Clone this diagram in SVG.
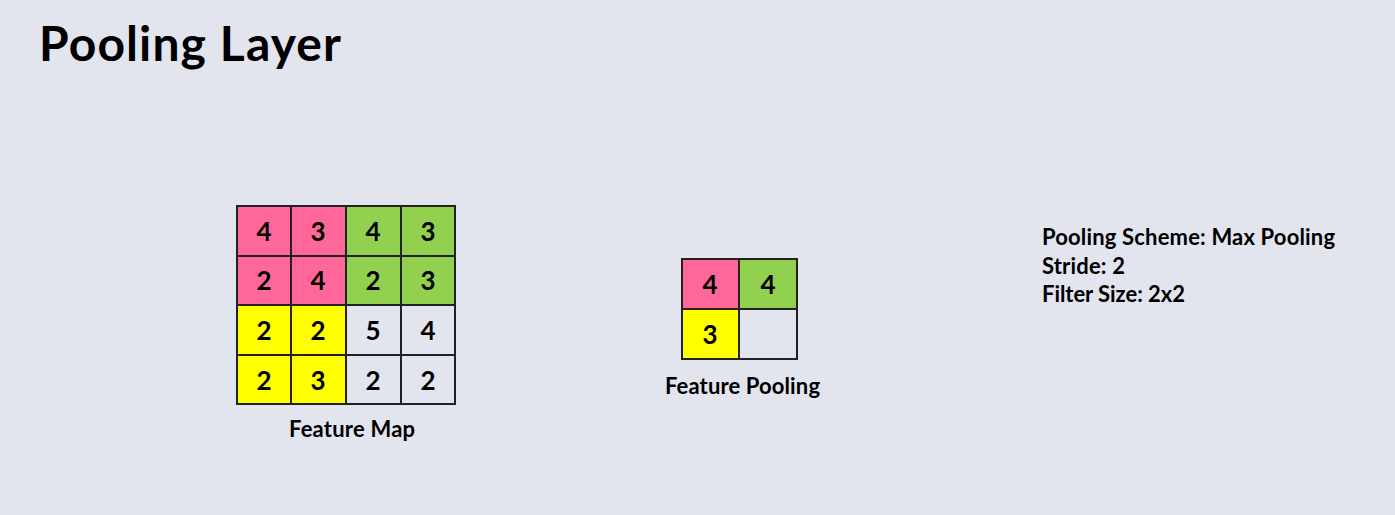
<svg xmlns="http://www.w3.org/2000/svg" width="1395" height="515" viewBox="0 0 1395 515">
<style>
text{font-family:Lato,"Open Sans","Liberation Sans",sans-serif;font-weight:bold;fill:#000}
.c{stroke:#222;stroke-width:2}
.p{fill:#FF6699}.g{fill:#92D050}.y{fill:#FFFF00}.w{fill:#E2E5EE}
.n{font-size:26px;text-anchor:middle}
.l{font-size:22px}
</style>
<rect width="1395" height="515" fill="#E2E5EE"/>
<text x="39" y="61" style="font-size:48px" textLength="302">Pooling Layer</text>
<g id="feature-map">
<rect class="c p" x="237" y="206" width="54" height="50"/>
<rect class="c p" x="291" y="206" width="55" height="50"/>
<rect class="c g" x="346" y="206" width="55" height="50"/>
<rect class="c g" x="401" y="206" width="54" height="50"/>
<rect class="c p" x="237" y="256" width="54" height="49"/>
<rect class="c p" x="291" y="256" width="55" height="49"/>
<rect class="c g" x="346" y="256" width="55" height="49"/>
<rect class="c g" x="401" y="256" width="54" height="49"/>
<rect class="c y" x="237" y="305" width="54" height="50"/>
<rect class="c y" x="291" y="305" width="55" height="50"/>
<rect class="c w" x="346" y="305" width="55" height="50"/>
<rect class="c w" x="401" y="305" width="54" height="50"/>
<rect class="c y" x="237" y="355" width="54" height="49"/>
<rect class="c y" x="291" y="355" width="55" height="49"/>
<rect class="c w" x="346" y="355" width="55" height="49"/>
<rect class="c w" x="401" y="355" width="54" height="49"/>
<text class="n" x="264" y="241">4</text><text class="n" x="318" y="241">3</text><text class="n" x="373" y="241">4</text><text class="n" x="428" y="241">3</text>
<text class="n" x="264" y="290">2</text><text class="n" x="318" y="290">4</text><text class="n" x="373" y="290">2</text><text class="n" x="428" y="290">3</text>
<text class="n" x="264" y="340">2</text><text class="n" x="318" y="340">2</text><text class="n" x="373" y="340">5</text><text class="n" x="428" y="340">4</text>
<text class="n" x="264" y="390">2</text><text class="n" x="318" y="390">3</text><text class="n" x="373" y="390">2</text><text class="n" x="428" y="390">2</text>
<text class="l" x="289" y="437" textLength="126">Feature Map</text>
</g>
<g id="feature-pooling">
<rect class="c p" x="682" y="259" width="57" height="50"/>
<rect class="c g" x="739" y="259" width="58" height="50"/>
<rect class="c y" x="682" y="309" width="57" height="50"/>
<rect class="c w" x="739" y="309" width="58" height="50"/>
<text class="n" x="710" y="294">4</text><text class="n" x="768" y="294">4</text>
<text class="n" x="710" y="344">3</text>
<text class="l" x="665" y="394" textLength="155">Feature Pooling</text>
</g>
<g id="info">
<text class="l" x="1042" y="245" textLength="293">Pooling Scheme: Max Pooling</text>
<text class="l" x="1042" y="274" textLength="83">Stride: 2</text>
<text class="l" x="1042" y="302" textLength="143">Filter Size: 2x2</text>
</g>
<g id="connectors"></g>
</svg>
